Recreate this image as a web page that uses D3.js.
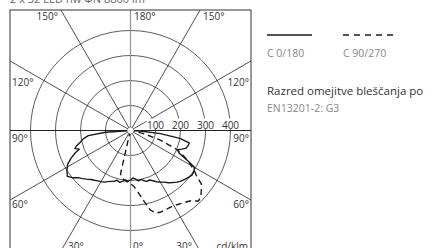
<!DOCTYPE html>
<html>
<head>
<meta charset="utf-8">
<script src="https://cdn.jsdelivr.net/npm/d3@7"></script>
<style>
  body { margin: 0; background: #fff; }
  svg { display: block; font-family: 'Open Sans', sans-serif; }
</style>
</head>
<body>
<div id="chart"></div>
<script>
// luminous intensity in cd/klm, gamma angle from nadir (negative = left half)
const gammaSolid = [-90, -86, -83, -80, -77, -74, -72, -70, -68, -65, -62, -58, -54, -51, -48, -45, -42, -39, -36, -33, -30, -27, -24, -21, -18, -15, -12, -9, -6, -3, 0, 3, 6, 9, 12, 15, 18, 21, 24, 27, 30, 33, 36, 39, 42, 45, 48, 51, 54, 57, 60, 62, 65, 68, 70, 72, 75, 78, 81, 84, 87, 90]
const solidValues = [0, 100, 170, 192, 205, 225, 234, 218, 238, 262, 284, 300, 312, 300, 282, 272, 262, 252, 246, 240, 236, 232, 224, 218, 214, 206, 212, 206, 200, 204, 198, 190, 196, 204, 200, 208, 214, 212, 220, 230, 238, 246, 258, 268, 278, 286, 292, 298, 304, 302, 296, 262, 215, 205, 218, 232, 238, 240, 200, 120, 40, 0]

const gammaDashed = [-20, -14, -13, -9, -5, -1, 3, 6, 9, 11, 14, 17, 20, 24, 28, 32, 36, 40, 44, 47, 50, 53, 55, 58, 61, 64, 68, 72, 76, 80, 90]
const dashedValues = [0, 30, 178, 195, 203, 210, 222, 240, 268, 290, 328, 345, 348, 346, 346, 350, 358, 368, 392, 385, 370, 355, 325, 300, 270, 240, 195, 125, 60, 25, 0]

const ringValues = [100, 200, 300, 400]
const spokeAngles = [0, 30, 60, 90, 120, 150, 180, -30, -60, -90, -120, -150]
const legendLabels = ['C 0/180', 'C 90/270']
const title = '2 x 32 LED nw   \u03A6N 8800 lm'
const noteLines = ['Razred omejitve bleščanja po', 'EN13201-2: G3']

const width = 438
const height = 248
const box = { x: 10, y: 10, size: 241 }
const cx = box.x + box.size / 2
const cy = box.y + box.size / 2

const svg = d3
  .select('#chart')
  .append('svg')
  .attr('width', width)
  .attr('height', height)

svg.append('defs')
  .append('clipPath')
  .attr('id', 'box-clip')
  .append('rect')
  .attr('x', box.x)
  .attr('y', box.y)
  .attr('width', box.size)
  .attr('height', box.size)

// title, mostly cut off at the top
svg.append('text')
  .attr('x', box.x)
  .attr('y', 3)
  .attr('font-size', 11)
  .attr('fill', '#666')
  .text(title)

const rScale = d3.scaleLinear().domain([0, 400]).range([0, 100])

const g = svg.append('g')
  .attr('clip-path', 'url(#box-clip)')

const polar = g.append('g')
  .attr('transform', 'translate(' + cx + ',' + cy + ')')

// rings
polar.selectAll('.ring')
  .data(ringValues)
  .enter().append('circle')
  .attr('class', 'ring')
  .attr('r', d => rScale(d))
  .attr('fill', 'none')
  .attr('stroke', '#333')
  .attr('stroke-width', 0.8)

// spokes, long enough to reach the box edge
const toRad = a => (a * Math.PI) / 180
polar.selectAll('.spoke')
  .data(spokeAngles)
  .enter().append('line')
  .attr('class', 'spoke')
  .attr('x1', 0)
  .attr('y1', 0)
  .attr('x2', d => 300 * Math.sin(toRad(d)))
  .attr('y2', d => 300 * Math.cos(toRad(d)))
  .attr('stroke', d => (d === 0 || d === 180) ? '#999' : '#222')
  .attr('stroke-width', d => (d === 0 || d === 180) ? 1.3 : (Math.abs(d) === 90 ? 1 : 0.8))

// ring labels with white background
const ringLabel = polar.selectAll('.ring-label')
  .data(ringValues)
  .enter().append('g')
  .attr('class', 'ring-label')
  .attr('transform', d => 'translate(' + rScale(d) + ',-2)')

ringLabel.append('rect')
  .attr('x', -9)
  .attr('y', -10)
  .attr('width', 18)
  .attr('height', 10)
  .attr('fill', '#fff')

ringLabel.append('text')
  .attr('text-anchor', 'middle')
  .attr('font-size', 10)
  .attr('fill', '#333')
  .text(d => d)

// intensity curves
const radial = (gammas) => d3.lineRadial()
  .angle((d, i) => Math.PI - toRad(gammas[i]))
  .radius(d => rScale(d))
  .curve(d3.curveLinear)

polar.append('path')
  .datum(solidValues)
  .attr('d', radial(gammaSolid))
  .attr('fill', 'none')
  .attr('stroke', '#1a1a1a')
  .attr('stroke-width', 1.4)
  .attr('stroke-linejoin', 'round')

polar.append('path')
  .datum(dashedValues)
  .attr('d', radial(gammaDashed))
  .attr('fill', 'none')
  .attr('stroke', '#1a1a1a')
  .attr('stroke-width', 1.4)
  .attr('stroke-dasharray', '6,4')

// centre marker
polar.append('circle')
  .attr('r', 3.5)
  .attr('fill', '#fff')
  .attr('stroke', '#444')
  .attr('stroke-width', 0.6)

// box
svg.append('rect')
  .attr('x', box.x)
  .attr('y', box.y)
  .attr('width', box.size)
  .attr('height', box.size)
  .attr('fill', 'none')
  .attr('stroke', '#333')
  .attr('stroke-width', 1)

// angle labels
const angleLabels = [
  { t: '150°', x: 58, y: 20, a: 'end' },
  { t: '180°', x: 134, y: 20, a: 'start' },
  { t: '150°', x: 203, y: 20, a: 'start' },
  { t: '120°', x: 12, y: 86, a: 'start' },
  { t: '120°', x: 249, y: 86, a: 'end' },
  { t: '90°', x: 12, y: 142, a: 'start' },
  { t: '90°', x: 249, y: 142, a: 'end' },
  { t: '60°', x: 12, y: 208, a: 'start' },
  { t: '60°', x: 249, y: 208, a: 'end' },
  { t: '30°', x: 68, y: 250, a: 'start' },
  { t: '0°', x: 133, y: 250, a: 'start' },
  { t: '30°', x: 192, y: 250, a: 'end' },
  { t: 'cd/klm', x: 248, y: 250, a: 'end' }
]

svg.selectAll('.angle-label')
  .data(angleLabels)
  .enter().append('text')
  .attr('class', 'angle-label')
  .attr('x', d => d.x)
  .attr('y', d => d.y)
  .attr('text-anchor', d => d.a)
  .attr('font-size', 10)
  .attr('fill', '#333')
  .text(d => d.t)

// legend
const legendX = [267, 343]
const legend = svg.selectAll('.legend')
  .data(legendLabels)
  .enter().append('g')
  .attr('class', 'legend')
  .attr('transform', (d, i) => 'translate(' + legendX[i] + ',0)')

legend.append('line')
  .attr('x1', 0)
  .attr('x2', (d, i) => i === 0 ? 45 : 51)
  .attr('y1', 35)
  .attr('y2', 35)
  .attr('stroke', '#1a1a1a')
  .attr('stroke-width', 1.4)
  .attr('stroke-dasharray', (d, i) => i === 0 ? null : '6,5')

legend.append('text')
  .attr('y', 57)
  .attr('font-size', 10.5)
  .attr('fill', '#888')
  .text(d => d)

svg.selectAll('.note')
  .data(noteLines)
  .enter().append('text')
  .attr('class', 'note')
  .attr('x', 267)
  .attr('y', (d, i) => 95 + i * 17)
  .attr('font-size', (d, i) => i === 0 ? 11.5 : 10.5)
  .attr('fill', (d, i) => i === 0 ? '#333' : '#888')
  .text(d => d)
</script>
</body>
</html>
